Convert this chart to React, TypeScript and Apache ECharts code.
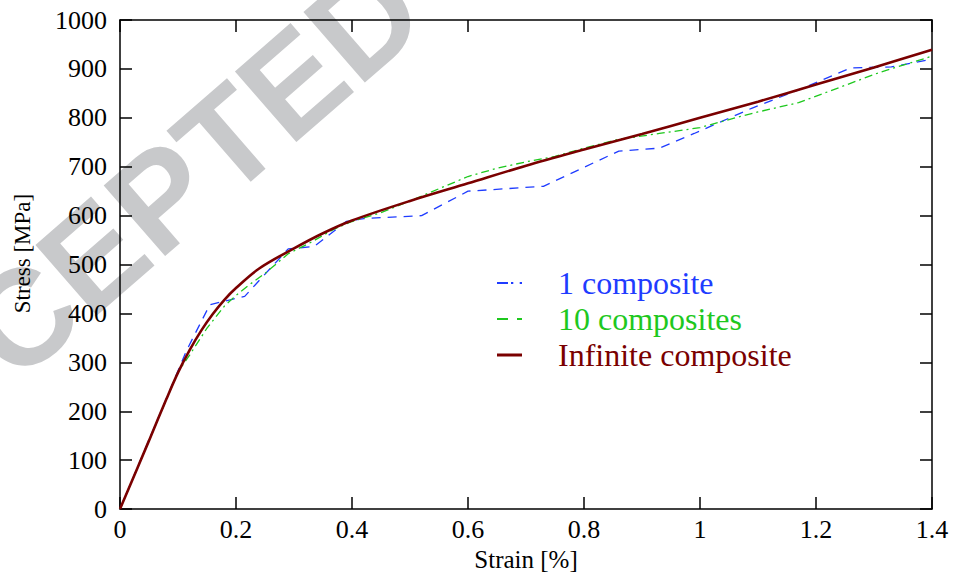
import React, { useEffect, useRef } from "react";
import * as echarts from "echarts";

// ---- data ----
const seriesNames = ["1 composite", "10 composites", "Infinite composite"];

const oneStrain = [0, 0.115, 0.155, 0.19, 0.215, 0.29, 0.335, 0.39, 0.42, 0.52, 0.6, 0.73, 0.86, 0.93, 0.99, 1.09, 1.17, 1.26, 1.33, 1.4];
const oneStress = [0, 325, 418, 428, 435, 532, 537, 588, 594, 600, 650, 660, 732, 738, 768, 820, 857, 902, 904, 920];

const tenStrain = [0, 0.1, 0.12, 0.15, 0.18, 0.2, 0.22, 0.25, 0.29, 0.33, 0.37, 0.4, 0.45, 0.5, 0.55, 0.6, 0.65, 0.7, 0.75, 0.8, 0.86, 0.93, 1.0, 1.07, 1.1, 1.17, 1.22, 1.31, 1.4];
const tenStress = [0, 280, 315, 370, 415, 437, 456, 482, 522, 546, 573, 588, 606, 630, 655, 680, 697, 710, 721, 738, 756, 768, 780, 803, 812, 831, 853, 893, 926];

const infStrain = [0, 0.05, 0.08, 0.1, 0.12, 0.14, 0.16, 0.18, 0.2, 0.24, 0.3, 0.35, 0.4, 0.5, 0.6, 0.7, 0.8, 0.9, 1.0, 1.1, 1.2, 1.3, 1.4];
const infStress = [0, 140, 225, 279, 325, 365, 399, 428, 452, 492, 533, 564, 590, 630, 666, 702, 735, 767, 800, 833, 868, 903, 939];

const xTickValues = [0, 0.2, 0.4, 0.6, 0.8, 1, 1.2, 1.4];
const yTickValues = [0, 100, 200, 300, 400, 500, 600, 700, 800, 900, 1000];

const colors = ["#1f3cff", "#1ec81e", "#7a0000"];
const legendIcons = [
  "path://M0,0L0,3M0,0.5h11v2h-11zM14,0.5h2.3v2h-2.3zM22.7,0.5h2.3v2h-2.3z",
  "path://M0,0L0,3M0,0.5h11v2h-11zM20,0.5h5v2h-5z",
  "path://M0,0h25v3h-25z",
];

const pair = (xs: number[], ys: number[]) => xs.map((x, i) => [x, ys[i]]);

const SERIF = "Liberation Serif";

export default function App() {
  const ref = useRef<HTMLDivElement>(null);
  useEffect(() => {
    if (!ref.current) return;
    const chart = echarts.init(ref.current, undefined, { renderer: "svg" });
    const axisLine = { show: true, onZero: false, lineStyle: { color: "#000", width: 1.5 } };
    const axisTick = { show: true, inside: true, length: 12, lineStyle: { color: "#000", width: 1.5 } };
    const xMin = xTickValues[0];
    const xMax = xTickValues[xTickValues.length - 1];
    const xStep = xTickValues[1] - xTickValues[0];
    const yMin = yTickValues[0];
    const yMax = yTickValues[yTickValues.length - 1];
    const yStep = yTickValues[1] - yTickValues[0];
    chart.setOption({
      animation: false,
      backgroundColor: "#fff",
      grid: { left: 120, right: 23, top: 20, bottom: 65, containLabel: false },
      graphic: [
        {
          type: "text",
          x: 119,
          y: 234,
          rotation: (41 * Math.PI) / 180,
          z: -10,
          silent: true,
          style: {
            text: "ACCEPTED",
            fontSize: 136,
            fontWeight: "bold",
            fontFamily: "Liberation Sans",
            fill: "#c8c9cb",
            align: "center",
            verticalAlign: "middle",
            textAlign: "center",
            textVerticalAlign: "middle",
          },
        },
      ],
      legend: {
        orient: "vertical",
        left: 497,
        top: 267,
        padding: 0,
        itemWidth: 25,
        itemHeight: 3,
        itemGap: 4,
        symbolKeepAspect: false,
        textStyle: { fontFamily: SERIF, fontSize: 32, lineHeight: 32, padding: [0, 0, 0, 31] },
        data: seriesNames.map((n, i) => ({ name: n, icon: legendIcons[i], textStyle: { color: colors[i] } })),
      },
      xAxis: [
        {
          type: "value",
          min: xMin,
          max: xMax,
          interval: xStep,
          position: "bottom",
          axisLine,
          axisTick,
          splitLine: { show: false },
          axisLabel: {
            color: "#000",
            fontFamily: SERIF,
            fontSize: 26,
            margin: 7,
            formatter: (v: number) => String(Number(v.toFixed(1))),
          },
          name: "Strain [%]",
          nameLocation: "middle",
          nameGap: 36,
          nameTextStyle: { color: "#000", fontFamily: SERIF, fontSize: 25 },
        },
        {
          type: "value",
          min: xMin,
          max: xMax,
          interval: xStep,
          position: "top",
          axisLine,
          axisTick,
          splitLine: { show: false },
          axisLabel: { show: false },
        },
      ],
      yAxis: [
        {
          type: "value",
          min: yMin,
          max: yMax,
          interval: yStep,
          position: "left",
          axisLine,
          axisTick,
          splitLine: { show: false },
          axisLabel: {
            color: "#000",
            fontFamily: SERIF,
            fontSize: 26,
            margin: 13,
            formatter: (v: number) => String(v),
          },
          name: "Stress [MPa]",
          nameLocation: "middle",
          nameGap: 86,
          nameTextStyle: { color: "#000", fontFamily: SERIF, fontSize: 23, padding: [0, 0, 0, 22] },
        },
        {
          type: "value",
          min: yMin,
          max: yMax,
          interval: yStep,
          position: "right",
          axisLine,
          axisTick,
          splitLine: { show: false },
          axisLabel: { show: false },
        },
      ],
      series: [
        {
          name: seriesNames[0],
          type: "line",
          data: pair(oneStrain, oneStress),
          showSymbol: false,
          symbol: "none",
          color: colors[0],
          lineStyle: { color: colors[0], width: 1.3, type: [9, 7] },
          z: 3,
        },
        {
          name: seriesNames[1],
          type: "line",
          data: pair(tenStrain, tenStress),
          showSymbol: false,
          symbol: "none",
          color: colors[1],
          lineStyle: { color: colors[1], width: 1.3, type: [8, 4, 2, 4] },
          z: 4,
        },
        {
          name: seriesNames[2],
          type: "line",
          data: pair(infStrain, infStress),
          showSymbol: false,
          symbol: "none",
          smooth: 0.35,
          color: colors[2],
          lineStyle: { color: colors[2], width: 2.6 },
          z: 5,
        },
      ],
    });
    return () => chart.dispose();
  }, []);
  return (
    <div
      ref={ref}
      style={{ position: "fixed", left: 0, top: 0, width: 955, height: 577, background: "#fff" }}
    />
  );
}
